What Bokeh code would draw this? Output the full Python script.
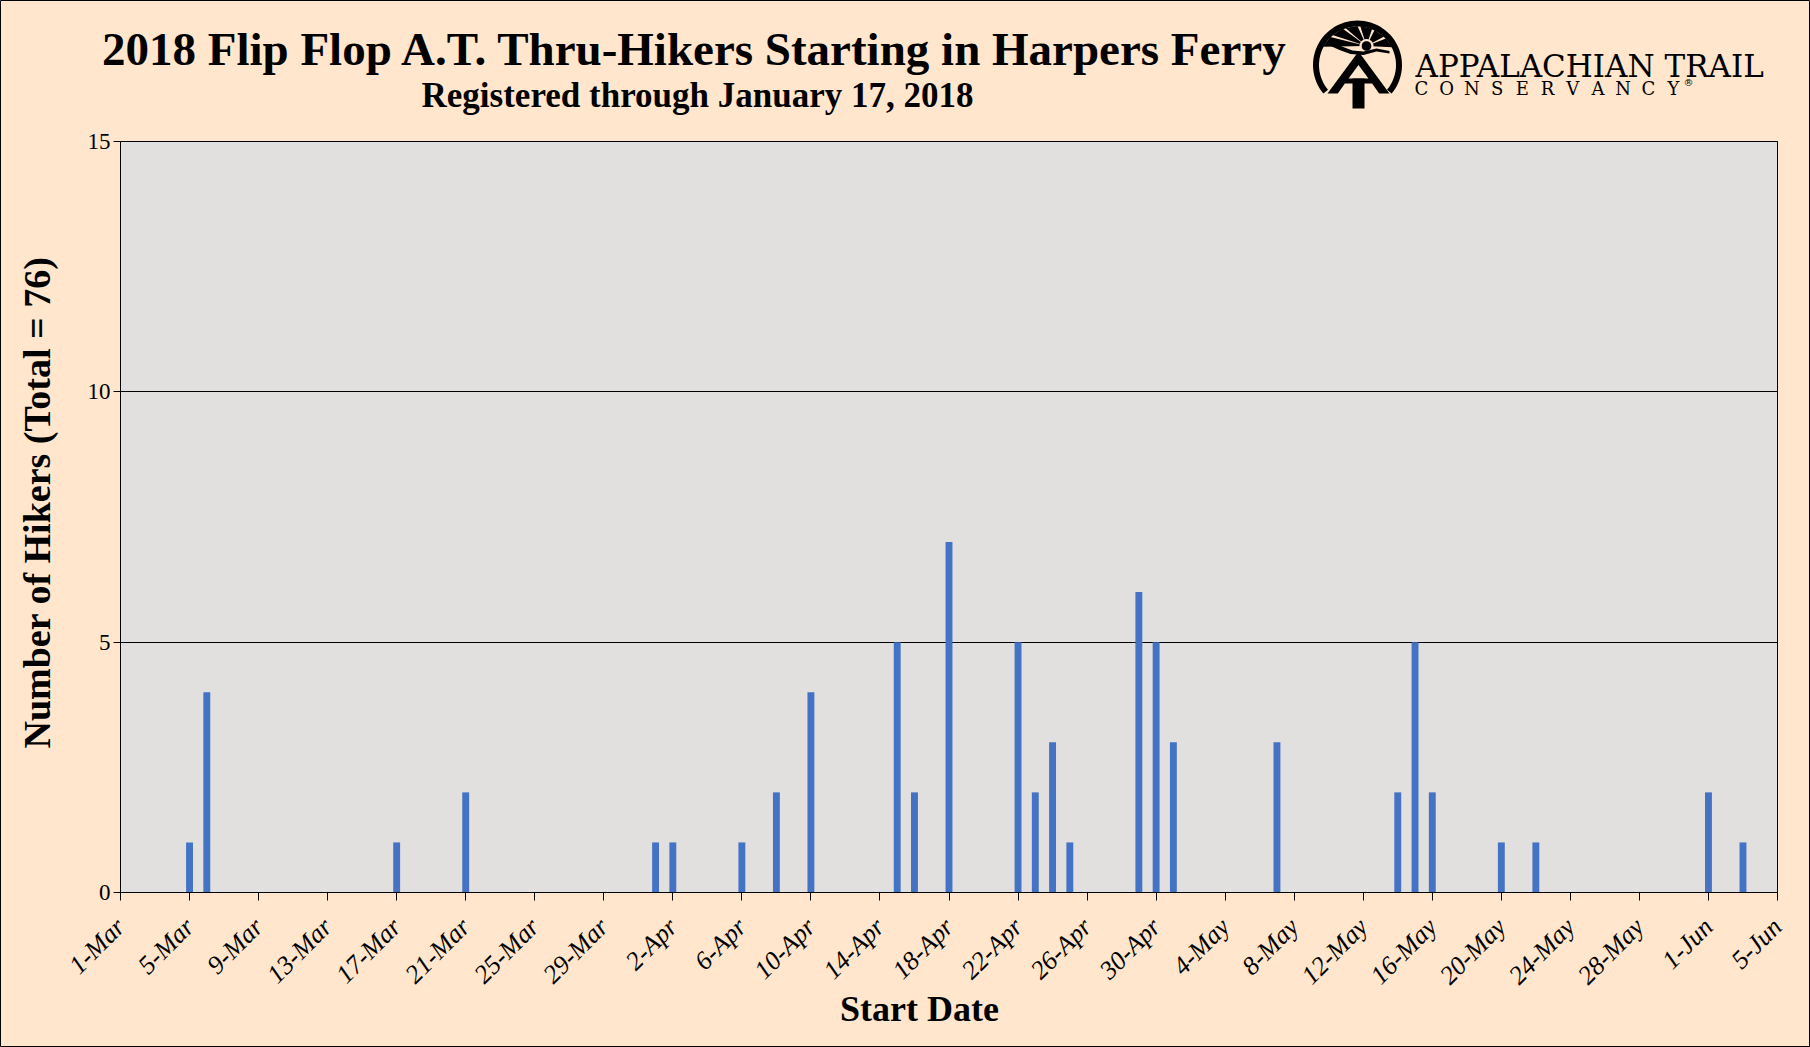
import math
import pandas as pd
from bokeh.plotting import figure
from bokeh.models import FixedTicker, Range1d, LinearAxis, Grid
from bokeh.core.properties import value
from bokeh.embed import file_html
from bokeh.resources import INLINE

# ---------------- data ----------------
start_dates = ["2018-03-05", "2018-03-06", "2018-03-17", "2018-03-21", "2018-04-01",
               "2018-04-02", "2018-04-06", "2018-04-08", "2018-04-10", "2018-04-15",
               "2018-04-16", "2018-04-18", "2018-04-22", "2018-04-23", "2018-04-24",
               "2018-04-25", "2018-04-29", "2018-04-30", "2018-05-01", "2018-05-07",
               "2018-05-14", "2018-05-15", "2018-05-16", "2018-05-20", "2018-05-22",
               "2018-06-01", "2018-06-03"]
hikers = [1, 4, 1, 2, 1, 1, 1, 2, 4, 5, 2, 7, 5, 2, 3, 1, 6, 5, 3, 3, 2, 5, 2, 1, 1, 2, 1]
tick_labels = ["1-Mar", "5-Mar", "9-Mar", "13-Mar", "17-Mar", "21-Mar", "25-Mar", "29-Mar",
               "2-Apr", "6-Apr", "10-Apr", "14-Apr", "18-Apr", "22-Apr", "26-Apr", "30-Apr",
               "4-May", "8-May", "12-May", "16-May", "20-May", "24-May", "28-May", "1-Jun",
               "5-Jun"]
y_ticks = [0, 5, 10, 15]
title_text = "2018 Flip Flop A.T. Thru-Hikers Starting in Harpers Ferry"
subtitle_text = "Registered through January 17, 2018"
x_label = "Start Date"
y_label = "Number of Hikers (Total = 76)"
logo_line1 = "APPALACHIAN TRAIL"
logo_line2 = list("CONSERVANCY")

# ---------------- derived ----------------
origin = pd.Timestamp("2018-03-01")
x_days = [(pd.Timestamp(d) - origin).days for d in start_dates]
tick_pos = [(pd.to_datetime(t + "-2018", format="%d-%b-%Y") - origin).days for t in tick_labels]
x_lo, x_hi = tick_pos[0], tick_pos[-1]
y_lo, y_hi = y_ticks[0], y_ticks[-1]

PEACH = "#FFE6CC"
PLOTBG = "#E1E0DF"
BAR = "#4472C4"
SERIF = "Liberation Serif"
LOGO_FONT = "DejaVu Serif"
W, H = 1810, 1047
FL, FR, FT, FB = 120, 1777, 141, 892   # plot-area edges in page pixels
pxd = (FR - FL) / (x_hi - x_lo)
pyu = (FB - FT) / (y_hi - y_lo)

def dx(X):
    return x_lo + (X - FL) / pxd

def dy(Y):
    return y_lo + (FB - Y) / pyu

p = figure(width=W, height=H, title=None,
           x_range=Range1d(dx(0), dx(W)), y_range=Range1d(dy(H), dy(0)),
           output_backend="svg", toolbar_location=None,
           x_axis_location=None, y_axis_location=None, min_border=0,
           background_fill_color=PEACH, border_fill_color=PEACH,
           outline_line_color="black", outline_line_width=1)
for g in p.grid:
    g.visible = False

# plot area
bg = p.quad(left=[x_lo], right=[x_hi], bottom=[y_lo], top=[y_hi],
            fill_color=PLOTBG, line_color=None)
bg.level = "image"

# horizontal grid lines
grid_kw = dict(dimension=1, ticker=FixedTicker(ticks=y_ticks), grid_line_color="black",
               grid_line_width=1)
if "cross_bounds" in Grid.properties():
    p.add_layout(Grid(cross_bounds=(x_lo, x_hi), **grid_kw))
else:
    p.segment(x0=[x_lo] * len(y_ticks), x1=[x_hi] * len(y_ticks), y0=y_ticks, y1=y_ticks,
              line_color="black", line_width=1)

# bars
p.vbar(x=x_days, top=hikers, width=0.4, fill_color=BAR, line_color=None)

# plot-area border
p.quad(left=[x_lo], right=[x_hi], bottom=[y_lo], top=[y_hi],
       fill_color=None, line_color="black", line_width=1)

# ---------------- axes (at fixed locations) ----------------
xc = dx(919)
xaxis = LinearAxis(fixed_location=y_lo, ticker=FixedTicker(ticks=tick_pos),
                   bounds=(2 * xc - x_hi - 0.01, x_hi + 0.01))
xaxis.major_label_overrides = {pos: lab for pos, lab in zip(tick_pos, tick_labels)}
xaxis.major_label_orientation = math.pi / 4
xaxis.major_label_text_font = SERIF
xaxis.major_label_text_font_style = "italic"
xaxis.major_label_text_font_size = "26px"
xaxis.major_label_standoff = 22
xaxis.major_tick_out = 8
xaxis.axis_label = x_label
xaxis.axis_label_standoff = -14
xaxis.axis_label_text_font_size = "36px"

yc = dy(502)
yaxis = LinearAxis(fixed_location=x_lo, ticker=FixedTicker(ticks=y_ticks),
                   bounds=(y_lo - 0.01, 2 * yc - y_lo + 0.01))
yaxis.major_label_text_font = SERIF
yaxis.major_label_text_font_size = "23px"
yaxis.major_label_standoff = 3
yaxis.major_tick_out = 7
yaxis.axis_label = y_label
yaxis.axis_label_standoff = 27
yaxis.axis_label_text_font_size = "38px"

for ax in (xaxis, yaxis):
    ax.axis_line_color = None
    ax.major_tick_in = 0
    ax.minor_tick_in = 0
    ax.minor_tick_out = 0
    ax.major_tick_line_color = "black"
    ax.major_label_text_color = "black"
    ax.axis_label_text_font = SERIF
    ax.axis_label_text_font_style = "bold"
    ax.axis_label_text_color = "black"
p.add_layout(xaxis, "below")
p.add_layout(yaxis, "left")

# ---------------- header ----------------
def add_text(X, Y, txt, size, style="normal", align="left", font=SERIF):
    p.text(x=[dx(X)], y=[dy(Y)], text=[txt], text_font=value(font), text_font_size=size,
           text_font_style=style, text_align=align, text_baseline="alphabetic",
           text_color="black")

def add_poly(pts, color):
    p.patch(x=[dx(a) for a, b in pts], y=[dy(b) for a, b in pts],
            fill_color=color, line_color=None)

add_text(695, 48, title_text, "47px", "bold", "center")
add_text(697, 95, subtitle_text, "35px", "bold", "center")

# logo: ring
cx, cy, r_out, r_in = 1357.0, 64.5, 44.5, 38.5
def on_circle(r, a, c=(cx, cy)):
    return (c[0] + r * math.cos(math.radians(a)), c[1] - r * math.sin(math.radians(a)))
ring = [on_circle(r_out, -40 + k * 260 / 60) for k in range(61)]
ring += [on_circle(r_in, 220 - k * 260 / 60) for k in range(61)]
add_poly(ring, "black")
# sun rays
sun = (1366.0, 45.5)
for a0, a1 in [(152, 134), (130, 112), (108, 90), (86, 68), (64, 47), (43, 27)]:
    add_poly([sun, on_circle(r_in + 0.5, a0), on_circle(r_in + 0.5, a1)], "black")
add_poly([on_circle(7.0, k * 15, sun) for k in range(24)], PEACH)
add_poly([on_circle(4.8, k * 15, sun) for k in range(24)], "black")
# horizon ribbon
add_poly([(1329, 41.5), (1340, 45.5), (1352, 50.0), (1363, 51.0), (1376, 48.0), (1389, 50.5),
          (1389, 53.0), (1376, 51.0), (1363, 54.5), (1350, 53.5), (1339, 49.5), (1329, 45.0)],
         "black")
# A with T
ax0, atop, abot, thick = 1358.0, 51.0, 93.0, 10.0
slope = 31.0 / (abot - atop)
def half(y):
    return slope * (y - atop)
add_poly([(ax0, atop), (ax0 - half(abot), abot), (ax0 + half(abot), abot)], "black")
hole_apex = atop + thick / slope
add_poly([(ax0, hole_apex), (ax0 - (half(78) - thick), 78), (ax0 + (half(78) - thick), 78)], PEACH)
add_poly([(ax0 - (half(83) - thick), 83), (ax0 + (half(83) - thick), 83),
          (ax0 + (half(abot) - thick), abot + 0.5), (ax0 - (half(abot) - thick), abot + 0.5)], PEACH)
add_poly([(ax0 - 6, 78), (ax0 + 6, 78), (ax0 + 6, 108), (ax0 - 6, 108)], "black")

add_text(1415, 65, logo_line1, "31px", font=LOGO_FONT)
pitch = 25.2
for i, ch in enumerate(logo_line2):
    add_text(1421 + i * pitch, 88, ch, "18px", align="center", font=LOGO_FONT)
add_text(1683, 82, "\u00ae", "10px", font=LOGO_FONT)

open("out.html", "w").write(file_html(p, INLINE))
